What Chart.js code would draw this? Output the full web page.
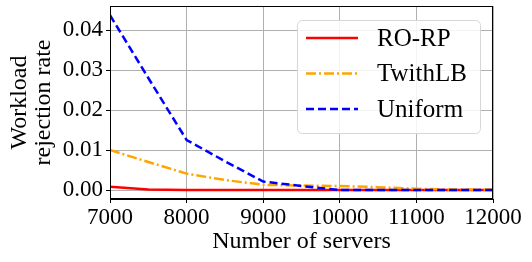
<!DOCTYPE html>
<html>
<head>
<meta charset="utf-8">
<script src="https://cdn.jsdelivr.net/npm/chart.js@4"></script>
<style>
  html, body { margin: 0; padding: 0; background: #fff; }
  #wrap { width: 532px; height: 262px; }
</style>
</head>
<body>
<div id="wrap"><canvas id="rejChart" width="532" height="262"></canvas></div>
<script>
// number of servers
const servers = [7000, 7500, 8000, 8500, 9000, 9500, 10000, 10500, 11000, 11500, 12000];
// workload rejection rate per policy
const roRp    = [0.0008, 0.0001, 0.0, 0.0, 0.0, 0.0, 0.0, 0.0, 0.0, 0.0, 0.0];
const twithLB = [0.0100, 0.0070, 0.0041, 0.0025, 0.0013, 0.0011, 0.0010, 0.0007, 0.0003, 0.0001, 0.0001];
const uniform = [0.0437, 0.0280, 0.0125, 0.0072, 0.0021, 0.0010, 0.0000, 0.0000, 0.0000, 0.0000, 0.0000];
const yTicks = [0.00, 0.01, 0.02, 0.03, 0.04];

const serif = "'Liberation Serif', 'DejaVu Serif', serif";

function pts(arr) {
    return servers.map((s, i) => ({ x: s, y: arr[i] }));
}

// frame on all four sides + legend box drawn on canvas
const framePlugin = {
    id: "frame",
    afterDatasetsDraw(chart) {
        const { ctx, chartArea: a } = chart;
        ctx.save();
        ctx.strokeStyle = "#000";
        ctx.lineWidth = 1;
        ctx.strokeRect(a.left + 0.5, a.top + 0.5, a.right - a.left - 1, a.bottom - a.top - 1);

        // legend
        const bx = 297, by = 20, bw = 183, bh = 113;
        ctx.beginPath();
        ctx.roundRect(bx + 0.5, by + 0.5, bw, bh, 5);
        ctx.fillStyle = "rgba(255,255,255,0.85)";
        ctx.fill();
        ctx.strokeStyle = "#d6d6d6";
        ctx.stroke();
        [0, 1, 2].forEach((di, k) => {
            const ds = chart.data.datasets[di];
            const y = 38 + k * 35.5;
            ctx.beginPath();
            ctx.setLineDash(ds.borderDash || []);
            ctx.strokeStyle = ds.borderColor;
            ctx.lineWidth = ds.borderWidth;
            ctx.moveTo(306, y);
            ctx.lineTo(358, y);
            ctx.stroke();
            ctx.setLineDash([]);
            ctx.fillStyle = "#000";
            ctx.font = "25px " + serif;
            ctx.textBaseline = "middle";
            ctx.textAlign = "left";
            ctx.fillText(ds.label, 377, y + 1);
        });
        ctx.restore();
    }
};

new Chart(document.getElementById("rejChart").getContext("2d"), {
    type: "line",
    data: {
        datasets: [
            {
                label: "RO-RP",
                data: pts(roRp),
                borderColor: "#ff0000",
                borderWidth: 2.5,
                pointRadius: 0,
                order: 3
            },
            {
                label: "TwithLB",
                data: pts(twithLB),
                borderColor: "#ffa500",
                borderWidth: 2.5,
                borderDash: [10, 3, 2, 3],
                pointRadius: 0,
                order: 2
            },
            {
                label: "Uniform",
                data: pts(uniform),
                borderColor: "#0000ff",
                borderWidth: 2.5,
                borderDash: [8, 4],
                pointRadius: 0,
                order: 1
            }
        ]
    },
    options: {
        responsive: false,
        animation: false,
        layout: { padding: { top: 6, right: 39, left: 0, bottom: 0 } },
        plugins: { legend: { display: false }, tooltip: { enabled: false } },
        scales: {
            x: {
                type: "linear",
                min: 7000,
                max: 12000,
                afterBuildTicks: (s) => { s.ticks = servers.filter(v => v % 1000 === 0).map(v => ({ value: v })); },
                afterFit: (s) => { s.height = 63; s.paddingLeft = 0; s.paddingRight = 0; },
                grid: { color: "#b0b0b0", tickColor: "#000", tickLength: 4 },
                border: { color: "#000" },
                ticks: {
                    color: "#000",
                    font: { family: serif, size: 23 },
                    padding: 1,
                    maxRotation: 0,
                    callback: (v) => String(v)
                },
                title: {
                    display: true,
                    text: "Number of servers",
                    color: "#000",
                    font: { family: serif, size: 24 },
                    padding: { top: 0, bottom: 6 }
                }
            },
            y: {
                min: -0.00225,
                max: 0.046,
                afterBuildTicks: (s) => { s.ticks = yTicks.map(v => ({ value: v })); },
                afterFit: (s) => { s.width = 110; s.paddingTop = 0; s.paddingBottom = 0; },
                grid: { color: "#b0b0b0", tickColor: "#000", tickLength: 4 },
                border: { color: "#000" },
                ticks: {
                    color: "#000",
                    font: { family: serif, size: 23 },
                    padding: 3,
                    callback: (v) => v.toFixed(2)
                },
                title: {
                    display: true,
                    text: ["Workload", "rejection rate"],
                    color: "#000",
                    font: { family: serif, size: 24, lineHeight: 0.98 },
                    padding: { top: 8, bottom: 0 }
                }
            }
        }
    },
    plugins: [framePlugin]
});
</script>
</body>
</html>
